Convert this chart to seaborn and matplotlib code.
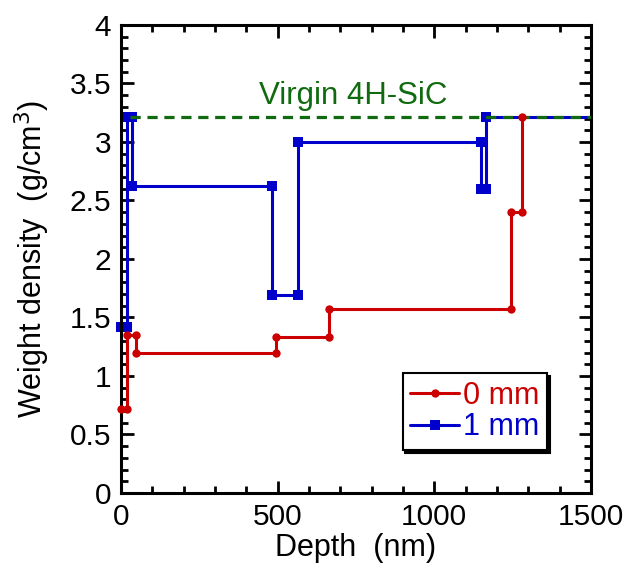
import matplotlib
matplotlib.use("Agg")
import matplotlib.pyplot as plt
import seaborn as sns
import pandas as pd
from matplotlib.ticker import MultipleLocator

# Step profiles of weight density vs depth
depth_0mm = [0, 20, 20, 48, 48, 495, 495, 664, 664, 1245, 1245, 1281, 1281]
dens_0mm = [0.72, 0.72, 1.35, 1.35, 1.20, 1.20, 1.33, 1.33, 1.57, 1.57, 2.40, 2.40, 3.21]

depth_1mm = [0, 20, 20, 35, 35, 483, 483, 566, 566, 1148, 1148, 1165, 1165, 1500]
dens_1mm = [1.42, 1.42, 3.21, 3.21, 2.62, 2.62, 1.69, 1.69, 3.00, 3.00, 2.60, 2.60, 3.21, 3.21]

virgin_density = 3.21
virgin_label = "Virgin 4H-SiC"
series_labels = ["0 mm", "1 mm"]

red = "#cc0000"
blue = "#0000cc"
green = "#106b10"

sns.set_theme(style="ticks")
plt.rcParams["font.family"] = ["Liberation Sans", "DejaVu Sans"]

fig = plt.figure(figsize=(6.28, 5.77), dpi=100)
ax = fig.add_axes([0.1927, 0.1456, 0.7483, 0.8111])

df0 = pd.DataFrame({"depth": depth_0mm, "dens": dens_0mm})
df1 = pd.DataFrame({"depth": depth_1mm, "dens": dens_1mm})

ax.axhline(virgin_density, xmin=0.02, xmax=1, color=green, lw=2.3, ls=(0, (3.2, 2.1)), zorder=3)

sns.lineplot(data=df1, x="depth", y="dens", sort=False, estimator=None, ax=ax,
             color=blue, lw=2.2, marker="s", markersize=6.5, markeredgewidth=0,
             markevery=list(range(len(depth_1mm) - 1)), label=series_labels[1],
             clip_on=False, zorder=2)
sns.lineplot(data=df0, x="depth", y="dens", sort=False, estimator=None, ax=ax,
             color=red, lw=2.2, marker="o", markersize=6, markeredgewidth=0,
             label=series_labels[0], clip_on=False, zorder=4)

ax.text(740, 3.39, virgin_label, color=green, fontsize=22.5, ha="center", va="center")

ax.set_xlim(0, 1500)
ax.set_ylim(0, 4)
ax.xaxis.set_minor_locator(MultipleLocator(100))
ax.yaxis.set_minor_locator(MultipleLocator(0.1))
ax.set_yticks([0, 0.5, 1, 1.5, 2, 2.5, 3, 3.5, 4])
ax.set_yticklabels(["0", "0.5", "1", "1.5", "2", "2.5", "3", "3.5", "4"])
ax.set_xticks([0, 500, 1000, 1500])
ax.set_xticklabels(["0", "500", "1000", "1500"])

for s in ax.spines.values():
    s.set_visible(True)
    s.set_linewidth(2.2)
    s.set_color("black")
ax.tick_params(which="both", direction="in", top=True, right=True, width=2, color="black",
               labelsize=21.5, labelcolor="black")
ax.tick_params(axis="x", pad=7)
ax.tick_params(axis="y", pad=7)
ax.tick_params(which="major", length=9)
ax.tick_params(which="minor", length=5)

ax.set_xlabel("Depth  (nm)", fontsize=22, color="black", labelpad=2)
ax.set_ylabel("Weight density  (g/cm$^3$)", fontsize=22, color="black", labelpad=13)

handles, labels = ax.get_legend_handles_labels()
order = [labels.index(series_labels[0]), labels.index(series_labels[1])]
leg = ax.legend([handles[i] for i in order], [labels[i] for i in order],
                loc="lower right", bbox_to_anchor=(0.906, 0.092), fontsize=22,
                frameon=True, fancybox=False, shadow={"color": "black", "alpha": 1},
                edgecolor="black", framealpha=1, handlelength=1.6, handletextpad=0.12,
                borderpad=0.25, labelspacing=0.05, borderaxespad=0)
leg.get_frame().set_linewidth(1.5)
for t, c in zip(leg.get_texts(), [red, blue]):
    t.set_color(c)

fig.savefig("out.png", dpi=100)
